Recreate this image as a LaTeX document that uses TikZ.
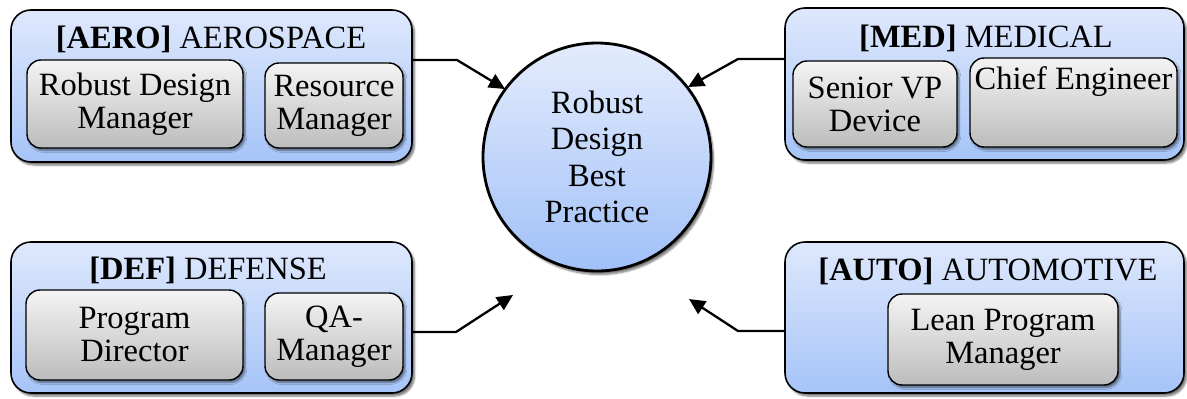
\documentclass[tikz,border=0pt]{standalone}
\usepackage{fontspec}
\setmainfont{Liberation Serif}
\usetikzlibrary{arrows.meta,shadows.blur,calc}
\definecolor{outtop}{RGB}{222,232,252}
\definecolor{outbot}{RGB}{166,196,248}
\definecolor{intop}{RGB}{244,244,244}
\definecolor{inbot}{RGB}{188,188,188}
\definecolor{cirtop}{RGB}{228,236,252}
\definecolor{cirbot}{RGB}{160,192,248}
\tikzset{
  groupbox/.style={draw=black, line width=1.6pt, rounded corners=20pt,
    top color=outtop, bottom color=outbot,
    blur shadow={shadow xshift=2.5pt, shadow yshift=-3pt, shadow blur steps=6, shadow opacity=55}},
  rolebox/.style={draw=black, line width=1.4pt, rounded corners=14pt,
    top color=intop, bottom color=inbot, align=center, inner sep=3pt,
    font=\fontsize{32.5}{33}\selectfont,
    blur shadow={shadow xshift=2pt, shadow yshift=-2.5pt, shadow blur steps=5, shadow opacity=50}},
  grouptitle/.style={anchor=base, font=\fontsize{32.5}{33}\selectfont, inner sep=0pt},
  hub/.style={circle, draw=black, line width=2.8pt, top color=cirtop, bottom color=cirbot,
    align=center, font=\fontsize{32.5}{36.5}\selectfont,
    blur shadow={shadow xshift=2.5pt, shadow yshift=-3.5pt, shadow blur steps=6, shadow opacity=55}},
  feed/.style={draw=black, line width=2.3pt, -{Triangle[length=16pt,width=15pt]}}
}
\begin{document}
\begin{tikzpicture}[x=1pt,y=-1pt]
\useasboundingbox (0,0) rectangle (1187,399);
% hub
\node[hub, minimum size=228pt, inner sep=0pt] (hub) at (597,157) {Robust\\Design\\Best\\Practice};
% AERO
\node[groupbox, minimum width=401pt, minimum height=152pt] (aero) at (211.5,86) {};
\node[grouptitle] (aerot) at (211,48) {\textbf{[AERO]} AEROSPACE};
\node[rolebox, minimum width=216pt, minimum height=88pt] (aero1) at (135,104) {Robust Design\\Manager};
\node[rolebox, minimum width=138pt, minimum height=85pt] (aero2) at (334,105.5) {Resource\\Manager};
% MED
\node[groupbox, minimum width=399pt, minimum height=152pt] (med) at (984.5,84) {};
\node[grouptitle] (medt) at (986,47) {\textbf{[MED]} MEDICAL};
\node[rolebox, minimum width=164pt, minimum height=86pt] (med1) at (875,104) {Senior VP\\Device};
\node[rolebox, minimum width=207pt, minimum height=89pt, inner sep=4pt,
      text height=27pt, text depth=54pt] (med2) at (1073.5,102.5) {Chief Engineer};
% DEF
\node[groupbox, minimum width=401pt, minimum height=151pt] (def) at (211.5,317.5) {};
\node[grouptitle] (deft) at (208,279) {\textbf{[DEF]} DEFENSE};
\node[rolebox, minimum width=217pt, minimum height=90pt] (def1) at (134.5,335) {Program\\Director};
\node[rolebox, minimum width=138pt, minimum height=87pt] (def2) at (334,336.5) {QA-\\Manager};
% AUTO
\node[groupbox, minimum width=399pt, minimum height=151pt] (auto) at (984.5,317.5) {};
\node[grouptitle] (autot) at (988,280) {\textbf{[AUTO]} AUTOMOTIVE};
\node[rolebox, minimum width=230pt, minimum height=91pt] (auto1) at (1003,339.5) {Lean Program\\Manager};
% connectors
\coordinate (ab) at (457,60);  \coordinate (at) at (505,89);
\coordinate (mb) at (738,59);  \coordinate (mt) at (688,87);
\coordinate (db) at (456,332); \coordinate (dt) at (513,295);
\coordinate (ub) at (738,331); \coordinate (ut) at (689,299);
\draw[feed] (aero.east |- ab) -- (ab) -- (at);
\draw[feed] (med.west |- mb) -- (mb) -- (mt);
\draw[feed] (def.east |- db) -- (db) -- (dt);
\draw[feed] (auto.west |- ub) -- (ub) -- (ut);
\end{tikzpicture}
\end{document}
